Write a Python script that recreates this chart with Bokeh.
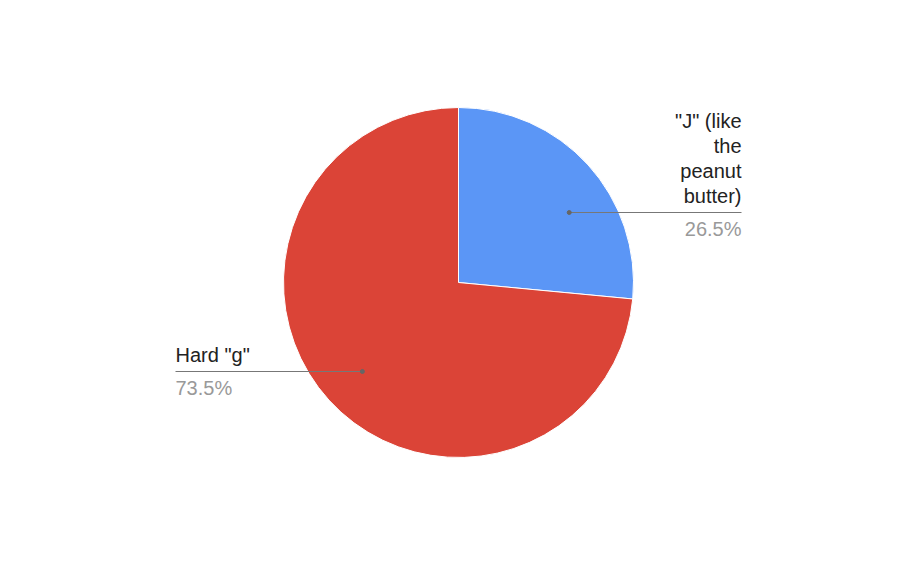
import math
from bokeh.plotting import figure
from bokeh.models import ColumnDataSource, Range1d
from bokeh.core.properties import value
from bokeh.embed import file_html
from bokeh.resources import INLINE

# ---- data ----
categories = ['"J" (like the peanut butter)', 'Hard "g"']
values = [26.5, 73.5]
label_lines = [['"J" (like', 'the', 'peanut', 'butter)'], ['Hard "g"']]
pct_labels = ["26.5%", "73.5%"]
colors = ["#5b96f6", "#db4437"]

W, H = 916, 566
cx, cy, R = 458, 566 - 282, 175
font = "Liberation Sans"

p = figure(width=W, height=H, output_backend="svg", toolbar_location=None,
           x_range=Range1d(0, W), y_range=Range1d(0, H),
           min_border=0, outline_line_color=None)
p.axis.visible = False
p.grid.visible = False
p.background_fill_color = "white"
p.border_fill_color = "white"

total = sum(values)
starts, ends = [], []
a = math.pi / 2
for v in values:
    starts.append(a)
    a -= v / total * 2 * math.pi
    ends.append(a)

src = ColumnDataSource(dict(start=starts, end=ends, color=colors,
                            x=[cx] * len(values), y=[cy] * len(values)))
p.wedge(x="x", y="y", radius=R, start_angle="start", end_angle="end",
        direction="clock", fill_color="color", line_color="white",
        line_width=1, source=src)

# label layout (screen y of leader lines, text side)
line_y = [566 - 212, 566 - 371]
dot_r = 131
for i, v in enumerate(values):
    mid = (starts[i] + ends[i]) / 2
    ly = line_y[i]
    dy = ly - cy
    dx = math.sqrt(max(dot_r ** 2 - dy ** 2, 0))
    if math.cos(mid) >= 0:
        dot_x = cx + dx
        end_x = 741
        align = "right"
    else:
        dot_x = cx - dx
        end_x = 175
        align = "left"
    tx = end_x
    p.line([dot_x, end_x], [ly, ly], line_color="#777777", line_width=1)
    p.scatter([dot_x], [ly], size=4, color="#666666")
    lines = label_lines[i]
    n = len(lines)
    ys = [ly + 17 + (n - 1 - k) * 25 for k in range(n)]
    p.text(x=[tx] * n, y=ys, text=lines, text_font=value(font),
           text_font_size="20px", text_color="#222222", text_align=align,
           text_baseline="alphabetic")
    p.text(x=[tx], y=[ly - 16], text=[pct_labels[i]], text_font=value(font),
           text_font_size="20px", text_color="#999999", text_align=align,
           text_baseline="alphabetic")

open("out.html", "w").write(file_html(p, INLINE))
